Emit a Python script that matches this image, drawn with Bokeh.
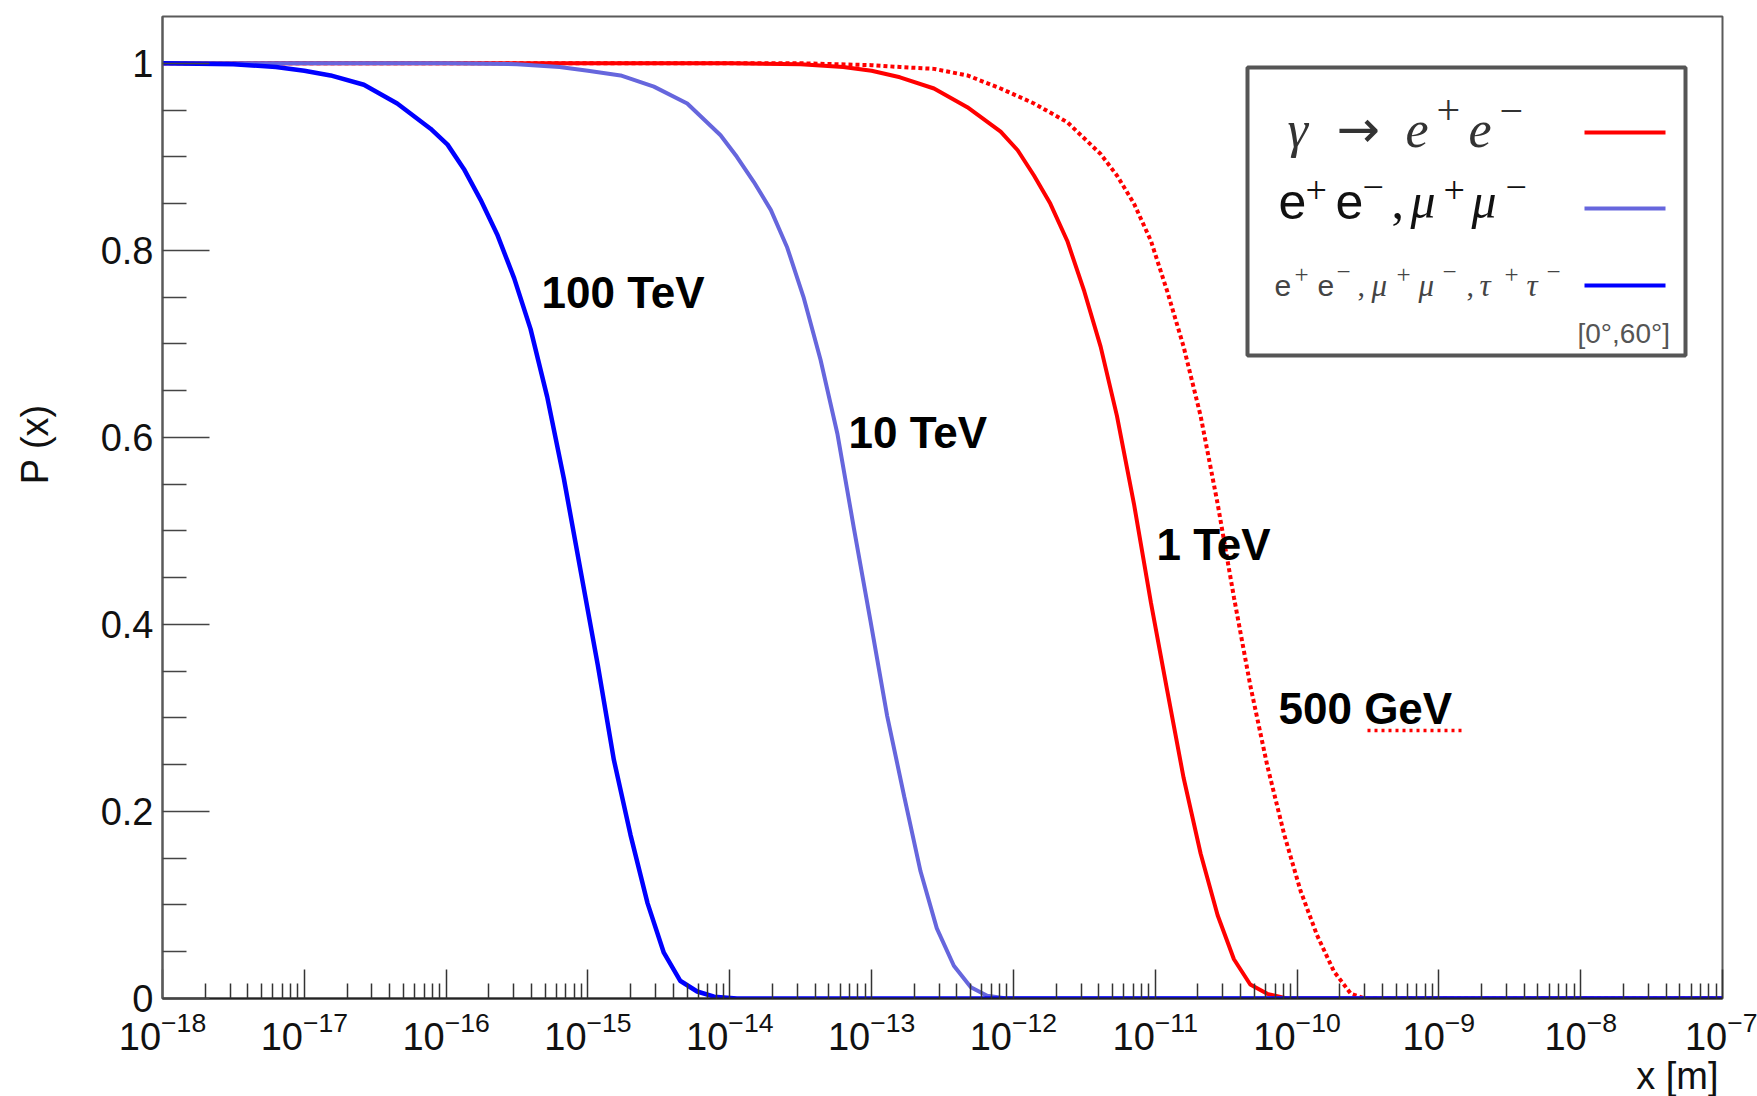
from bokeh.plotting import figure
from bokeh.models import (FixedTicker, CustomJSTickFormatter, LogTickFormatter, Label,
                          BoxAnnotation, Arrow, Range1d, Title)
from bokeh.embed import file_html
from bokeh.resources import INLINE
import math

# ---------------- data ----------------
# x given as log10(x / m)
LX_100TEV = [-18, -17.5, -17.2, -17.0, -16.815, -16.58, -16.345, -16.11, -15.99, -15.875,
             -15.757, -15.64, -15.52, -15.405, -15.287, -15.17, -15.05, -14.93, -14.817,
             -14.70, -14.58, -14.465, -14.35, -14.23, -14.11, -13.95, -7]
P_100TEV = [1.0, 0.999, 0.996, 0.992, 0.987, 0.977, 0.957, 0.930, 0.913, 0.887,
            0.854, 0.817, 0.770, 0.716, 0.643, 0.556, 0.456, 0.356, 0.255,
            0.175, 0.102, 0.049, 0.019, 0.0075, 0.002, 0.0, 0.0]

LX_10TEV = [-18, -16.0, -15.5, -15.2, -15.0, -14.77, -14.535, -14.30, -14.065, -13.95,
            -13.83, -13.71, -13.595, -13.48, -13.36, -13.24, -13.125, -13.007, -12.89,
            -12.77, -12.655, -12.54, -12.42, -12.30, -12.185, -12.05, -7]
P_10TEV = [1.0, 1.0, 0.999, 0.996, 0.992, 0.987, 0.975, 0.957, 0.923, 0.900,
           0.873, 0.843, 0.803, 0.750, 0.683, 0.603, 0.503, 0.403, 0.302,
           0.216, 0.136, 0.075, 0.035, 0.012, 0.003, 0.0, 0.0]

LX_1TEV = [-18, -14.0, -13.5, -13.2, -13.0, -12.80, -12.56, -12.325, -12.09, -11.97,
           -11.855, -11.74, -11.62, -11.50, -11.385, -11.27, -11.15, -11.03, -10.915,
           -10.80, -10.68, -10.56, -10.445, -10.33, -10.21, -10.07, -7]
P_1TEV = [1.0, 1.0, 0.999, 0.996, 0.992, 0.985, 0.973, 0.953, 0.927, 0.907,
          0.880, 0.850, 0.810, 0.756, 0.697, 0.623, 0.529, 0.423, 0.329,
          0.236, 0.155, 0.089, 0.042, 0.015, 0.005, 0.0, 0.0]

LX_500GEV = [-18, -13.5, -13.0, -12.80, -12.56, -12.325, -12.09, -11.855, -11.62, -11.385,
             -11.27, -11.15, -11.03, -10.915, -10.80, -10.68, -10.56, -10.445, -10.33,
             -10.21, -10.09, -9.975, -9.86, -9.74, -9.62, -9.52, -7]
P_500GEV = [1.0, 1.0, 0.998, 0.996, 0.994, 0.987, 0.973, 0.957, 0.937, 0.903,
            0.880, 0.850, 0.810, 0.756, 0.697, 0.623, 0.529, 0.429, 0.335,
            0.249, 0.175, 0.115, 0.068, 0.029, 0.005, 0.0, 0.0]

CURVE_LABELS = ["100 TeV", "10 TeV", "1 TeV", "500 GeV"]
X_TICK_EXP = list(range(-18, -6))
Y_TICKS = [0, 0.2, 0.4, 0.6, 0.8, 1.0]
Y_MINOR = [0.05, 0.1, 0.15, 0.25, 0.3, 0.35, 0.45, 0.5, 0.55, 0.65, 0.7, 0.75, 0.85, 0.9, 0.95]
X_MINOR_MULT = [2, 3, 4, 5, 6, 7, 8, 9]
X_RANGE = (1e-18, 1e-7)
Y_RANGE = (0, 1.05)

# ---------------- layout helpers (pixel -> data for annotations) ----------------
FX0, FX1, FYT, FYB = 162, 1722, 16, 998
W, H = 1757, 1096


def px_x(px):
    lo, hi = math.log10(X_RANGE[0]), math.log10(X_RANGE[1])
    return 10 ** (lo + (px - FX0) * (hi - lo) / (FX1 - FX0))


def py_y(py):
    return (FYB - py) * (Y_RANGE[1] - Y_RANGE[0]) / (FYB - FYT)


def mid(baseline, size):
    # vertical centre of the em box for a given baseline
    return baseline - 0.35 * size


SANS = "Liberation Sans"
SERIF = "Liberation Serif"

p = figure(width=W, height=H, x_axis_type="log",
           x_range=Range1d(*X_RANGE), y_range=Range1d(*Y_RANGE),
           output_backend="svg", toolbar_location=None,
           min_border_left=FX0, min_border_right=W - FX1,
           min_border_top=FYT, min_border_bottom=H - FYB)
p.grid.visible = False
p.outline_line_color = "#5a5a5a"
p.outline_line_width = 2
p.background_fill_color = "white"
p.border_fill_color = "white"

xa = p.xaxis[0]
xa.ticker = FixedTicker(ticks=[10.0 ** e for e in X_TICK_EXP],
                        minor_ticks=[m * 10.0 ** e for e in X_TICK_EXP[:-1] for m in X_MINOR_MULT])
xa.formatter = LogTickFormatter()
xa.major_label_text_font = SANS
xa.major_label_text_font_size = "38px"
xa.major_label_text_color = "#111"
xa.major_label_standoff = 12
xa.major_tick_in = 29
xa.major_tick_out = 0
xa.minor_tick_in = 15
xa.minor_tick_out = 0
xa.major_tick_line_color = "#333"
xa.minor_tick_line_color = "#333"
xa.major_tick_line_width = 1.5
xa.minor_tick_line_width = 1.5
xa.axis_line_color = "#222"
xa.axis_line_width = 2

ya = p.yaxis[0]
ya.ticker = FixedTicker(ticks=Y_TICKS, minor_ticks=Y_MINOR)
ya.formatter = CustomJSTickFormatter(code="return String(Number(tick.toFixed(2)))")
ya.major_label_text_font = SANS
ya.major_label_text_font_size = "38px"
ya.major_label_text_color = "#111"
ya.major_label_standoff = 9
ya.major_tick_in = 47
ya.major_tick_out = 0
ya.minor_tick_in = 24
ya.minor_tick_out = 0
ya.major_tick_line_color = "#444"
ya.minor_tick_line_color = "#444"
ya.major_tick_line_width = 1.5
ya.minor_tick_line_width = 1.5
ya.axis_line_color = "#5a5a5a"
ya.axis_line_width = 2
# ROOT puts the title above the axis centre: pad the start with no-break spaces
ya.axis_label = "\u00a0" * 12 + "P (x)"
ya.axis_label_standoff = 42
ya.axis_label_text_font = SANS
ya.axis_label_text_font_size = "38px"
ya.axis_label_text_font_style = "normal"
ya.axis_label_text_color = "#111"

# x axis title (ROOT style: right end of the axis)
p.add_layout(Title(text="x [m]", align="right", text_font=SANS, text_font_size="38px",
                   text_font_style="normal", text_color="#111", standoff=0, offset=4), "below")

# ---------------- curves ----------------
RED = "#ff0000"
LIGHTBLUE = "#6666dd"
BLUE = "#0000ff"
p.line([10.0 ** v for v in LX_500GEV], P_500GEV, line_color=RED, line_width=4, line_dash="4 3")
p.line([10.0 ** v for v in LX_1TEV], P_1TEV, line_color=RED, line_width=4)
p.line([10.0 ** v for v in LX_10TEV], P_10TEV, line_color=LIGHTBLUE, line_width=4)
p.line([10.0 ** v for v in LX_100TEV], P_100TEV, line_color=BLUE, line_width=4.5)

# curve labels
for txt, px, py in zip(CURVE_LABELS, [541, 848, 1156, 1278], [307, 447, 559, 723]):
    p.add_layout(Label(x=px_x(px), y=py_y(mid(py, 44)), text=txt, text_font=SANS,
                       text_font_size="44px", text_font_style="bold", text_color="#000",
                       text_align="left", text_baseline="middle"))
p.add_layout(Arrow(start=None, end=None, x_start=px_x(1367), y_start=py_y(730),
                   x_end=px_x(1461), y_end=py_y(730), line_color=RED, line_width=3.5,
                   line_dash="3 4"))

# ---------------- legend box ----------------
p.add_layout(BoxAnnotation(left=px_x(1247), right=px_x(1685), top=py_y(67), bottom=py_y(355),
                           fill_color="white", fill_alpha=1.0, line_color="#555",
                           line_alpha=1.0, line_width=4))
for col, py in zip([RED, LIGHTBLUE, BLUE], [132, 208, 285]):
    p.add_layout(Arrow(start=None, end=None, x_start=px_x(1584), y_start=py_y(py),
                       x_end=px_x(1665), y_end=py_y(py), line_color=col, line_width=4))

ARROWF = "DejaVu Sans"
chunks = [
    ("\u03b3", 1287, 147, SERIF, 52, "italic", "#333"),
    ("\u2192", 1336, 147, ARROWF, 52, "normal", "#333"),
    ("e", 1405, 147, SERIF, 52, "italic", "#333"),
    ("+", 1436, 124, SERIF, 42, "normal", "#333"),
    ("e", 1468, 147, SERIF, 52, "italic", "#333"),
    ("\u2212", 1499, 125, SERIF, 42, "normal", "#333"),

    ("e", 1278, 218, SANS, 50, "normal", "#111"),
    ("+", 1305, 203, SERIF, 38, "normal", "#111"),
    ("e", 1335, 218, SANS, 50, "normal", "#111"),
    ("\u2212", 1362, 200, SERIF, 38, "normal", "#111"),
    (",", 1391, 218, SERIF, 50, "normal", "#111"),
    ("\u03bc", 1410, 218, SERIF, 50, "italic", "#111"),
    ("+", 1443, 203, SERIF, 38, "normal", "#111"),
    ("\u03bc", 1471, 218, SERIF, 50, "italic", "#111"),
    ("\u2212", 1505, 200, SERIF, 38, "normal", "#111"),

    ("e", 1274, 296, SANS, 30, "normal", "#444"),
    ("+", 1294, 283, SERIF, 25, "normal", "#444"),
    ("e", 1317, 296, SANS, 30, "normal", "#444"),
    ("\u2212", 1336, 280, SERIF, 25, "normal", "#444"),
    (",", 1357, 296, SERIF, 30, "normal", "#444"),
    ("\u03bc", 1371, 296, SERIF, 31, "italic", "#444"),
    ("+", 1396, 283, SERIF, 25, "normal", "#444"),
    ("\u03bc", 1418, 296, SERIF, 31, "italic", "#444"),
    ("\u2212", 1442, 280, SERIF, 25, "normal", "#444"),
    (",", 1466, 296, SERIF, 30, "normal", "#444"),
    ("\u03c4", 1479, 296, SERIF, 31, "italic", "#444"),
    ("+", 1504, 283, SERIF, 25, "normal", "#444"),
    ("\u03c4", 1526, 296, SERIF, 31, "italic", "#444"),
    ("\u2212", 1546, 280, SERIF, 25, "normal", "#444"),

    ("[0\u00b0,60\u00b0]", 1577, 343, SANS, 28, "normal", "#555"),
]
for txt, px, py, font, size, style, col in chunks:
    p.add_layout(Label(x=px_x(px), y=py_y(mid(py, size)), text=txt, text_font=font,
                       text_font_size="%dpx" % size, text_font_style=style, text_color=col,
                       text_align="left", text_baseline="middle"))

open("out.html", "w").write(file_html(p, INLINE))
